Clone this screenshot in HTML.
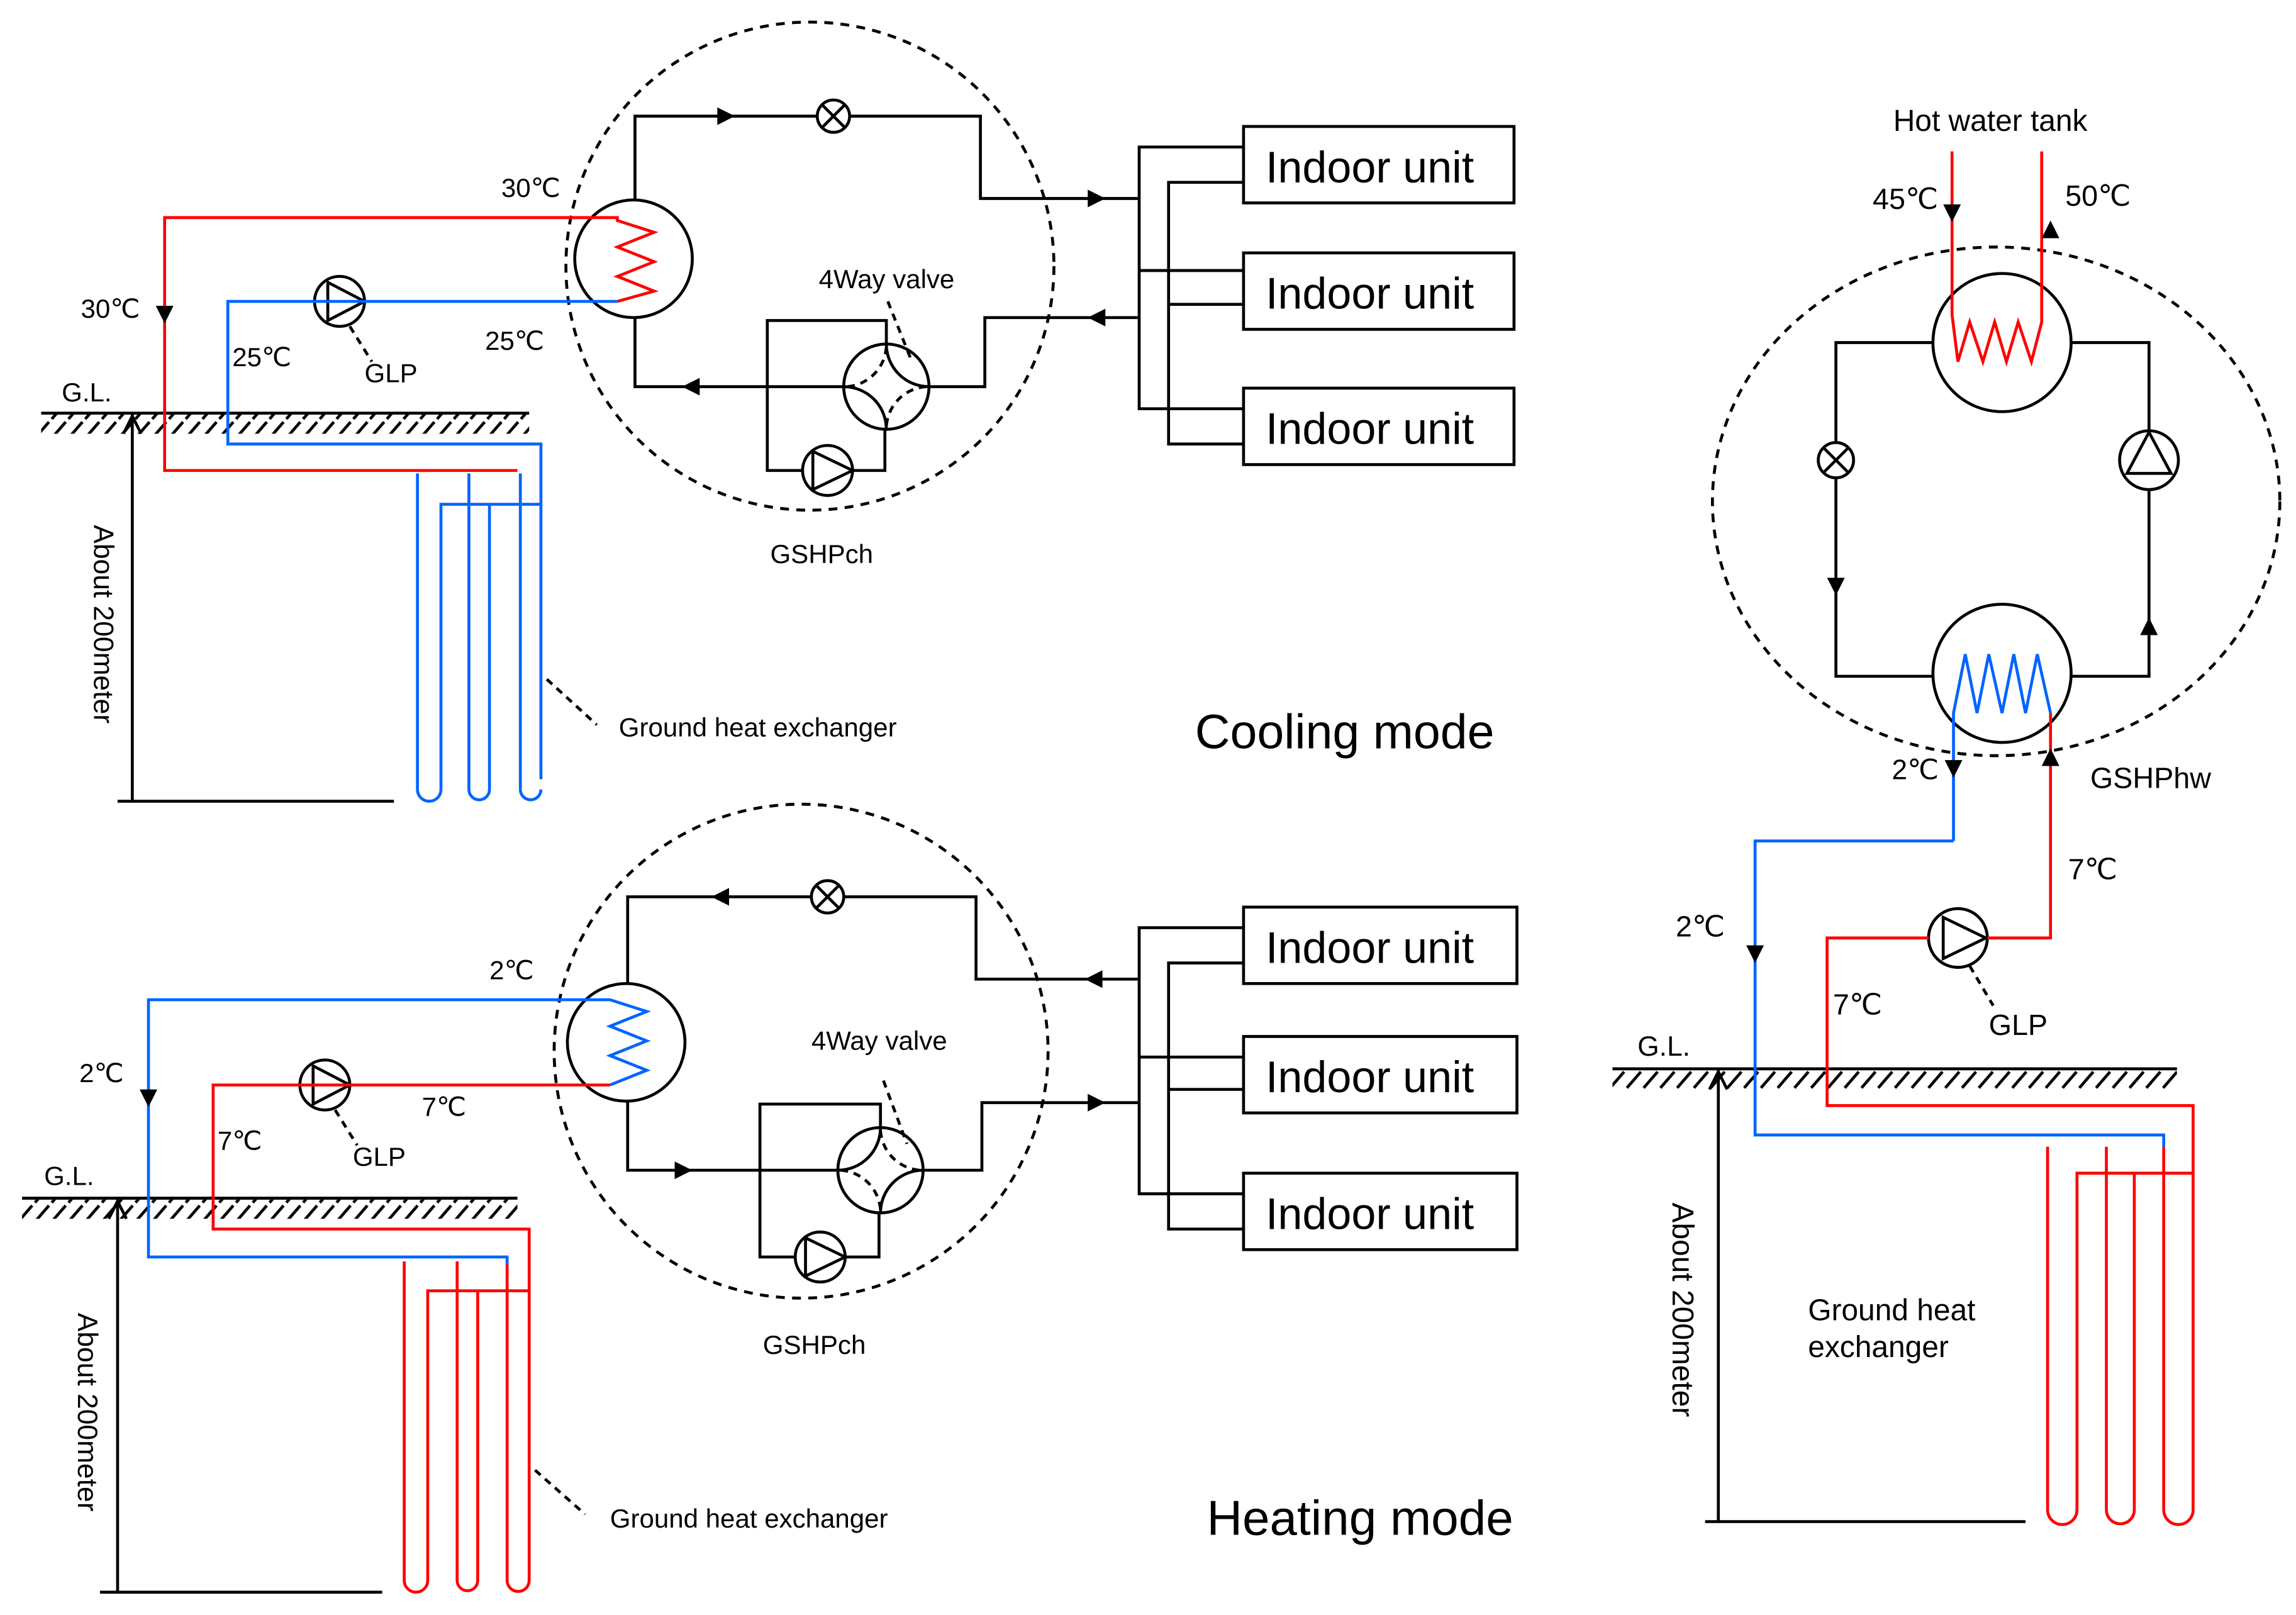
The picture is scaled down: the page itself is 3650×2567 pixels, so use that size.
<!DOCTYPE html>
<html><head><meta charset="utf-8"><style>
html,body{margin:0;padding:0;background:#fff}
svg{display:block}
text{font-family:"Liberation Sans",sans-serif;fill:#000}
</style></head><body>
<svg width="3650" height="2567" viewBox="0 0 1562 1098.5" xmlns="http://www.w3.org/2000/svg">
<defs>
<pattern id="h" width="11.4" height="13" patternUnits="userSpaceOnUse">
<line x1="10.5" y1="1" x2="1" y2="12" stroke="#000" stroke-width="2"/>
</pattern>
</defs>
<g fill="none" stroke="#000" stroke-width="2">

<!-- ============ COOLING ============ -->
<ellipse cx="551" cy="181" rx="166" ry="166" stroke-dasharray="6,5"/>
<polyline points="432,136 432,79 667,79 667,135 775,135"/>
<polyline points="432,216 432,263 574,263"/>
<polyline points="632,263 670,263 670,216 775,216"/>
<circle cx="431" cy="176" r="40"/>
<circle cx="567" cy="79" r="11" fill="#fff"/>
<path d="M559,71 L575,87 M575,71 L559,87"/>
<circle cx="603" cy="263" r="29"/>
<polyline points="603,234 603,218 522,218 522,320 546,320"/>
<polyline points="580,320 602,320 602,292"/>
<path d="M603,234 A29,29 0 0 0 632,263 M574,263 A29,29 0 0 1 603,292"/>
<path d="M603,236 A29,29 0 0 1 576,263 M630,263 A29,29 0 0 0 603,290" stroke-dasharray="5,4"/>
<circle cx="563" cy="320" r="17"/>
<path d="M553,307 L553,333 L580,320 Z"/>
<line x1="604" y1="205" x2="620" y2="245" stroke-dasharray="5,4"/>
<rect x="846" y="86" width="184" height="52"/>
<rect x="846" y="172" width="184" height="52"/>
<rect x="846" y="264" width="184" height="52"/>
<polyline points="846,100 775,100 775,278 846,278"/>
<line x1="775" y1="184" x2="846" y2="184"/>
<polyline points="846,124 795,124 795,302 846,302"/>
<line x1="795" y1="207" x2="846" y2="207"/>
<line x1="28" y1="281" x2="360" y2="281"/>
<line x1="90" y1="282" x2="90" y2="545"/>
<polyline points="84,295 90,283 96,295"/>
<line x1="80" y1="545" x2="268" y2="545"/>
<line x1="372" y1="462" x2="406" y2="493" stroke-dasharray="5,4"/>
<circle cx="231" cy="205" r="17" fill="#fff"/>
<path d="M223,192 L223,218 L248,205 Z"/>
<line x1="238" y1="222" x2="253" y2="246" stroke-dasharray="5,4"/>

<!-- ============ HEATING ============ -->
<ellipse cx="545" cy="715" rx="168" ry="168" stroke-dasharray="6,5"/>
<polyline points="427,669 427,610 664,610 664,666 775,666"/>
<polyline points="427,749 427,796 570,796"/>
<polyline points="628,796 668,796 668,750 775,750"/>
<circle cx="426" cy="709" r="40"/>
<circle cx="563" cy="610" r="11" fill="#fff"/>
<path d="M555,602 L571,618 M571,602 L555,618"/>
<circle cx="599" cy="796" r="29"/>
<polyline points="599,767 599,751 517,751 517,855 541,855"/>
<polyline points="575,855 598,855 598,825"/>
<path d="M599,767 A29,29 0 0 1 570,796 M628,796 A29,29 0 0 0 599,825"/>
<path d="M599,769 A29,29 0 0 0 626,796 M572,796 A29,29 0 0 1 599,823" stroke-dasharray="5,4"/>
<circle cx="558" cy="855" r="17"/>
<path d="M548,842 L548,868 L575,855 Z"/>
<line x1="601" y1="735" x2="617" y2="778" stroke-dasharray="5,4"/>
<rect x="846" y="617" width="186" height="52"/>
<rect x="846" y="705" width="186" height="52"/>
<rect x="846" y="798" width="186" height="52"/>
<polyline points="846,631 775,631 775,812 846,812"/>
<line x1="775" y1="719" x2="846" y2="719"/>
<polyline points="846,655 795,655 795,836 846,836"/>
<line x1="795" y1="741" x2="846" y2="741"/>
<line x1="15" y1="815" x2="352" y2="815"/>
<line x1="80" y1="816" x2="80" y2="1083"/>
<polyline points="74,829 80,817 86,829"/>
<line x1="68" y1="1083" x2="260" y2="1083"/>
<line x1="364" y1="1000" x2="398" y2="1030" stroke-dasharray="5,4"/>
<circle cx="221" cy="738" r="17" fill="#fff"/>
<path d="M213,725 L213,751 L238,738 Z"/>
<line x1="228" y1="755" x2="243" y2="779" stroke-dasharray="5,4"/>

<!-- ============ HOT WATER ============ -->
<ellipse cx="1358" cy="341" rx="193" ry="173" stroke-dasharray="6,5"/>
<circle cx="1362" cy="233" r="47"/>
<circle cx="1362" cy="458" r="47"/>
<polyline points="1315,233 1249,233 1249,301"/>
<polyline points="1249,325 1249,460 1315,460"/>
<polyline points="1409,233 1462,233 1462,293"/>
<polyline points="1462,333 1462,460 1409,460"/>
<circle cx="1249" cy="313" r="12" fill="#fff"/>
<path d="M1241,305 L1257,321 M1257,305 L1241,321"/>
<circle cx="1462" cy="313" r="20" fill="#fff"/>
<path d="M1462,294 L1447,322 L1477,322 Z"/>
<line x1="1097" y1="727" x2="1481" y2="727"/>
<line x1="1169" y1="728" x2="1169" y2="1035"/>
<polyline points="1163,741 1169,729 1175,741"/>
<line x1="1160" y1="1035" x2="1378" y2="1035"/>
<circle cx="1332" cy="638" r="20" fill="#fff"/>
<path d="M1322,624 L1322,652 L1351,638 Z"/>
<line x1="1340" y1="657" x2="1356" y2="684" stroke-dasharray="5,4"/>
</g>

<rect x="28" y="282" width="332" height="13" fill="url(#h)"/>
<rect x="15" y="816" width="337" height="13" fill="url(#h)"/>
<rect x="1097" y="728" width="384" height="13" fill="url(#h)"/>

<g fill="none" stroke-width="2">
<polyline stroke="#f00" points="392,148 420,148 420,150 445,158 420,168 445,178 420,188 445,198 420,205"/>
<polyline stroke="#f00" points="392,148 112,148 112,320 352,320"/>
<polyline stroke="#0064ff" points="420,205 155,205 155,302 368,302 368,530"/>
<g stroke="#0064ff">
<line x1="284" y1="322" x2="284" y2="537"/><line x1="319" y1="322" x2="319" y2="537"/><line x1="354" y1="322" x2="354" y2="537"/>
<polyline points="300,537 300,343 368,343"/><line x1="333" y1="343" x2="333" y2="537"/>
<path d="M284,537 A8,8 0 0 0 300,537 M319,537 A7,7 0 0 0 333,537 M354,537 A7,7 0 0 0 368,537"/>
</g>
<polyline stroke="#0064ff" points="387,680 415,680 440,688 415,698 440,708 415,718 440,728 415,738"/>
<polyline stroke="#0064ff" points="387,680 101,680 101,855 345,855 345,860"/>
<polyline stroke="#f00" points="415,738 145,738 145,836 360,836 360,1075"/>
<g stroke="#f00">
<line x1="275" y1="858" x2="275" y2="1075"/><line x1="311" y1="858" x2="311" y2="1075"/><line x1="345" y1="860" x2="345" y2="1075"/>
<polyline points="291,1075 291,878 360,878"/><line x1="325" y1="878" x2="325" y2="1075"/>
<path d="M275,1075 A8,8 0 0 0 291,1075 M311,1075 A7,7 0 0 0 325,1075 M345,1075 A7.5,7.5 0 0 0 360,1075"/>
</g>
<polyline stroke="#f00" points="1328,103 1328,214 1332,246 1340,219 1349,246 1357,219 1365,246 1373,219 1382,246 1389,219 1389,103"/>
<polyline stroke="#0064ff" points="1329,572 1329,485 1337,445 1345,485 1353,445 1362,485 1370,445 1378,485 1386,445 1395,485"/>
<polyline stroke="#0064ff" points="1329,572 1194,572 1194,772 1472,772 1472,780"/>
<polyline stroke="#f00" points="1395,485 1395,638 1352,638"/>
<polyline stroke="#f00" points="1312,638 1243,638 1243,752 1492,752 1492,1027"/>
<g stroke="#f00">
<line x1="1393" y1="780" x2="1393" y2="1027"/><line x1="1433" y1="780" x2="1433" y2="1027"/><line x1="1472" y1="780" x2="1472" y2="1027"/>
<polyline points="1413,1027 1413,798 1492,798"/><line x1="1452" y1="798" x2="1452" y2="1027"/>
<path d="M1393,1027 A10,10 0 0 0 1413,1027 M1433,1027 A9.5,9.5 0 0 0 1452,1027 M1472,1027 A10,10 0 0 0 1492,1027"/>
</g>
</g>

<g fill="#000">
<polygon points="488,73 500,79 488,85"/>
<polygon points="740,129 752,135 740,141"/>
<polygon points="752,210 740,216 752,222"/>
<polygon points="476,257 464,263 476,269"/>
<polygon points="106,208 118,208 112,220"/>
<polygon points="496,604 484,610 496,616"/>
<polygon points="750,660 738,666 750,672"/>
<polygon points="740,744 752,750 740,756"/>
<polygon points="459,790 471,796 459,802"/>
<polygon points="95,741 107,741 101,753"/>
<polygon points="1243,393 1255,393 1249,405"/>
<polygon points="1456,432 1468,432 1462,420"/>
<polygon points="1322,139 1334,139 1328,151"/>
<polygon points="1389,162 1401,162 1395,150"/>
<polygon points="1323,517 1335,517 1329,529"/>
<polygon points="1389,521 1401,521 1395,509"/>
<polygon points="1188,643 1200,643 1194,655"/>
</g>

<g font-size="18">
<text x="341" y="134">30℃</text>
<text x="55" y="216">30℃</text>
<text x="158" y="249">25℃</text>
<text x="330" y="238">25℃</text>
<text x="248" y="260">GLP</text>
<text x="42" y="273">G.L.</text>
<text x="557" y="196">4Way valve</text>
<text x="524" y="383">GSHPch</text>
<text x="421" y="501">Ground heat exchanger</text>
<text x="333" y="666">2℃</text>
<text x="54" y="736">2℃</text>
<text x="148" y="782">7℃</text>
<text x="287" y="759">7℃</text>
<text x="240" y="793">GLP</text>
<text x="30" y="806">G.L.</text>
<text x="552" y="714">4Way valve</text>
<text x="519" y="921">GSHPch</text>
<text x="415" y="1039">Ground heat exchanger</text>
<text x="1288" y="89" font-size="20.5">Hot water tank</text>
<text x="1274" y="142" font-size="20">45℃</text>
<text x="1405" y="140" font-size="20">50℃</text>
<text x="1287" y="530" font-size="19">2℃</text>
<text x="1422" y="536" font-size="20">GSHPhw</text>
<text x="1407" y="598" font-size="20">7℃</text>
<text x="1140" y="637" font-size="20">2℃</text>
<text x="1247" y="690" font-size="20">7℃</text>
<text x="1353" y="704" font-size="20">GLP</text>
<text x="1114" y="718" font-size="19">G.L.</text>
<text x="1230" y="898" font-size="20.5">Ground heat</text>
<text x="1230" y="923" font-size="20.5">exchanger</text>
<text transform="translate(64,357) rotate(90)" font-size="19">About 200meter</text>
<text transform="translate(53,893) rotate(90)" font-size="19">About 200meter</text>
<text transform="translate(1138,818) rotate(90)" font-size="20.5">About 200meter</text>
</g>
<g font-size="30">
<text x="861" y="124">Indoor unit</text>
<text x="861" y="210">Indoor unit</text>
<text x="861" y="302">Indoor unit</text>
<text x="861" y="655">Indoor unit</text>
<text x="861" y="743">Indoor unit</text>
<text x="861" y="836">Indoor unit</text>
</g>
<text x="813" y="509" font-size="33">Cooling mode</text>
<text x="821" y="1044" font-size="33.5">Heating mode</text>
</svg>
</body></html>
